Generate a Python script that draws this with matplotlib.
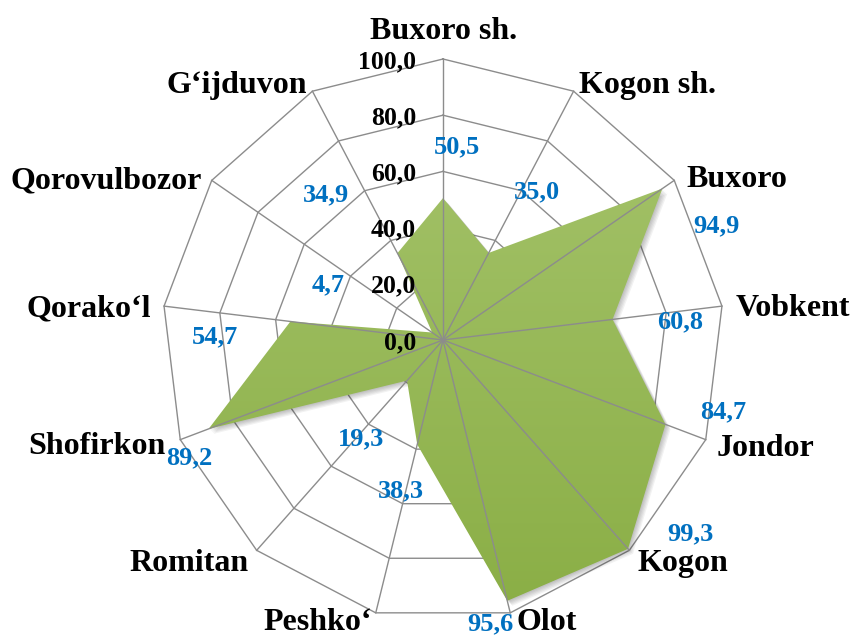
import numpy as np
import matplotlib.pyplot as plt
from matplotlib.patches import Polygon
from matplotlib.colors import LinearSegmentedColormap

# ---------------------------
# data
# ---------------------------
categories = ['Buxoro sh.', 'Kogon sh.', 'Buxoro', 'Vobkent', 'Jondor', 'Kogon',
              'Olot', 'Peshko\u2018', 'Romitan', 'Shofirkon', 'Qorako\u2018l',
              'Qorovulbozor', 'G\u2018ijduvon']
values = [50.5, 35.0, 94.9, 60.8, 84.7, 99.3, 95.6, 38.3, 19.3, 89.2, 54.7, 4.7, 34.9]
value_labels = ['50,5', '35,0', '94,9', '60,8', '84,7', '99,3', '95,6',
                '38,3', '19,3', '89,2', '54,7', '4,7', '34,9']
rings = [0, 20, 40, 60, 80, 100]
ring_labels = ['0,0', '20,0', '40,0', '60,0', '80,0', '100,0']

# label placement (pixel offsets, layout only)
cat_offsets = [(1, -31), (74, -9), (63, -4), (71, -1), (60, 5), (54, 10), (36, 6),
               (-58, 6), (-68, 10), (-83, 3), (-75, -1), (-106, -3), (-76, -9)]
val_offsets = [(14, -54), (48, -64), (54, 35), (68, 0), (58, -15), (62, -18), (-17, 20),
               (-16, 44), (-46, 56), (-19, 26), (-75, 13), (-104, -50), (-71, -61)]

# ---------------------------
# geometry
# ---------------------------
W, H = 855, 639
cx, cy = 443, 340       # centre in pixels
scale = 2.81            # pixels per unit
px2pt = 0.72

n = len(categories)
theta = np.pi / 2 - np.arange(n) * 2 * np.pi / n
ux, uy = np.cos(theta), np.sin(theta)

fig = plt.figure(figsize=(W / 100, H / 100), dpi=100)
ax = fig.add_axes([0, 0, 1, 1])
ax.set_xlim(-cx / scale, (W - cx) / scale)
ax.set_ylim(-(H - cy) / scale, cy / scale)
ax.axis('off')

grid_c = '#8c8c8c'
font = 'Liberation Serif'

# ring polygons
for r in rings[1:]:
    xs = np.append(r * ux, r * ux[0])
    ys = np.append(r * uy, r * uy[0])
    ax.plot(xs, ys, color=grid_c, lw=1.0, zorder=1)

# data polygon
vals = np.array(values)
px, py = vals * ux, vals * uy
pts = np.column_stack([px, py])

# soft shadow
for k in range(1, 6):
    sh = Polygon(pts + np.array([k, -k]) / scale, closed=True, facecolor='k',
                 edgecolor='none', alpha=0.05, zorder=2)
    ax.add_patch(sh)

# gradient fill
clip = Polygon(pts, closed=True, facecolor='none', edgecolor='none')
ax.add_patch(clip)
cmap = LinearSegmentedColormap.from_list('g', ['#8aae45', '#a7c56e'])
grad = np.linspace(0, 1, 256).reshape(-1, 1)
im = ax.imshow(grad, cmap=cmap, origin='lower', aspect='auto',
               extent=[-100, 100, -100, 100], zorder=3, interpolation='bicubic')
im.set_clip_path(clip)

# spokes
for i in range(n):
    ax.plot([0, 100 * ux[i]], [0, 100 * uy[i]], color=grid_c, lw=1.0, zorder=4)

# ring tick labels
for r, lab in zip(rings, ring_labels):
    ax.annotate(lab, xy=(0, r), xytext=(-27 * px2pt, -9 * px2pt),
                textcoords='offset points', ha='right', va='baseline',
                fontsize=18.5, fontweight='bold', family=font, color='black', zorder=5)

# category labels
for i, cat in enumerate(categories):
    dx, dy = cat_offsets[i]
    ax.annotate(cat, xy=(100 * ux[i], 100 * uy[i]),
                xytext=(dx * px2pt, -(dy + 11) * px2pt), textcoords='offset points',
                ha='center', va='baseline', fontsize=23, fontweight='bold',
                family=font, color='black', zorder=5)

# value labels
for i, lab in enumerate(value_labels):
    dx, dy = val_offsets[i]
    ax.annotate(lab, xy=(px[i], py[i]),
                xytext=(dx * px2pt, -(dy + 9) * px2pt), textcoords='offset points',
                ha='center', va='baseline', fontsize=19, fontweight='bold',
                family=font, color='#0070c0', zorder=5)

plt.savefig('out.png', dpi=100)
